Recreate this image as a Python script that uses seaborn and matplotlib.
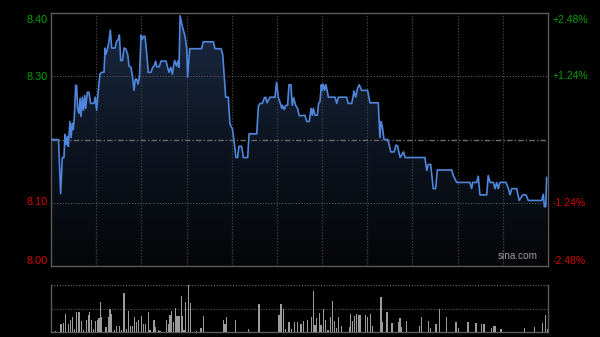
import numpy as np
import pandas as pd
import matplotlib
matplotlib.use("Agg")
import matplotlib.pyplot as plt
from matplotlib.patches import PathPatch
from matplotlib.colors import LinearSegmentedColormap
import matplotlib.transforms as mtransforms
import seaborn as sns

# ---------------- data ----------------
prev_close = 8.20

minutes = [0, 5, 6.4, 7.5, 8.6, 9.3, 10.0, 10.9, 11.5, 12.6, 13.3, 14.2, 14.8, 15.5, 16.4, 17.0, 17.7,
           18.6, 19.3, 19.9, 20.8, 21.5, 22.4, 23.0, 24.1, 25.2, 26.3, 28.5, 29.4, 30.3, 31.4, 32.5,
           33.6, 35.2, 35.9, 36.5, 37.4, 38.5, 39.4, 40.3, 42.5, 43.6, 44.7, 45.4, 46.3, 47.4, 48.5,
           49.6, 50.9, 51.8, 53.1, 54.2, 55.1, 56.0, 56.9, 57.8, 58.7, 59.8, 60.6, 61.5, 62.4, 63.3,
           64.6, 66.4, 67.5, 68.4, 69.5, 70.2, 71.9, 73.0, 76.4, 77.2, 78.4, 79.5, 80.6, 81.2, 82.1,
           83.4, 84.2, 85.0, 85.7, 87.2, 89.0, 90.1, 90.7, 92.1, 100.0, 101.1, 107.8, 108.9, 112.9,
           114.0, 116.0, 117.7, 118.8, 119.5, 120.4, 121.7, 122.8, 123.9, 124.8, 126.6, 127.7, 130.6,
           131.5, 136.6, 137.7, 138.8, 140.3, 141.7, 142.6, 143.4, 144.3, 145.4, 148.7, 149.8, 150.9,
           152.3, 153.2, 153.8, 154.9, 156.0, 157.1, 158.0, 159.3, 160.2, 161.1, 162.4, 163.7, 164.9,
           168.6, 169.8, 171.5, 172.7, 173.5, 174.2, 175.3, 176.8, 177.7, 178.6, 179.5, 180.1, 180.8,
           181.7, 182.6, 184.2, 188.6, 189.7, 190.8, 196.3, 197.3, 199.7, 201.2, 202.3, 203.6, 204.7,
           206.2, 210.2, 211.8, 217.3, 218.4, 219.1, 220.0, 221.1, 223.4, 224.2, 225.6, 227.8, 229.1,
           230.0, 231.8, 234.1, 235.1, 248.3, 249.5, 250.5, 252.1, 253.8, 255.4, 256.5, 266.1, 267.1,
           269.4, 278.2, 279.3, 280.0, 282.7, 283.7, 284.8, 289.3, 290.3, 291.5, 293.7, 294.8, 295.9,
           297.0, 298.1, 302.1, 303.7, 304.8, 305.9, 309.2, 310.9, 313.2, 315.4, 316.9, 325.8, 326.9,
           327.6, 328.5, 329.1]
prices = [8.200, 8.200, 8.113, 8.171, 8.171, 8.208, 8.192, 8.205, 8.189, 8.229, 8.203, 8.226, 8.216,
          8.237, 8.287, 8.287, 8.250, 8.242, 8.266, 8.237, 8.268, 8.247, 8.271, 8.250, 8.276, 8.276,
          8.258, 8.258, 8.268, 8.247, 8.279, 8.305, 8.308, 8.308, 8.347, 8.337, 8.345, 8.358, 8.376,
          8.347, 8.347, 8.358, 8.361, 8.368, 8.327, 8.327, 8.347, 8.346, 8.337, 8.318, 8.316, 8.300,
          8.279, 8.297, 8.297, 8.289, 8.300, 8.368, 8.361, 8.366, 8.366, 8.345, 8.308, 8.308, 8.316,
          8.318, 8.326, 8.317, 8.317, 8.326, 8.326, 8.318, 8.308, 8.316, 8.305, 8.316, 8.327,
          8.318, 8.326, 8.316, 8.399, 8.382, 8.366, 8.347, 8.300, 8.346, 8.346, 8.357, 8.357, 8.346,
          8.346, 8.337, 8.268, 8.268, 8.226, 8.221, 8.218, 8.195, 8.171, 8.171, 8.189, 8.189, 8.171,
          8.171, 8.209, 8.209, 8.253, 8.258, 8.258, 8.267, 8.268, 8.259, 8.263, 8.268, 8.268, 8.292,
          8.268, 8.258, 8.250, 8.255, 8.248, 8.255, 8.255, 8.288, 8.288, 8.255, 8.267, 8.255, 8.250,
          8.238, 8.239, 8.229, 8.229, 8.250, 8.239, 8.250, 8.239, 8.239, 8.258, 8.261, 8.288, 8.279,
          8.289, 8.279, 8.288, 8.268, 8.268, 8.258, 8.268, 8.268, 8.258, 8.258, 8.278, 8.268, 8.283,
          8.288, 8.279, 8.279, 8.259, 8.259, 8.203, 8.229, 8.221, 8.200, 8.200, 8.195, 8.180, 8.180,
          8.191, 8.190, 8.171, 8.180, 8.171, 8.171, 8.150, 8.160, 8.160, 8.121, 8.121, 8.151, 8.151,
          8.142, 8.131, 8.131, 8.121, 8.131, 8.131, 8.141, 8.111, 8.111, 8.142, 8.131, 8.131, 8.121,
          8.131, 8.121, 8.131, 8.131, 8.121, 8.111, 8.121, 8.121, 8.102, 8.111, 8.111, 8.102, 8.102,
          8.112, 8.092, 8.092, 8.139]

vol_minutes = [2.7, 6.6, 8.2, 9.7, 11.5, 12.8, 14.2, 15.5, 16.8, 18.6, 20.4, 21.7, 23.5, 24.8, 25.5,
               26.8, 28.1, 29.7, 31.0, 31.9, 33.0, 33.6, 36.5, 38.1, 39.2, 40.3, 42.0, 43.6, 45.2,
               46.9, 48.5, 50.2, 51.6, 52.9, 54.2, 55.3, 56.9, 58.2, 60.2, 61.3, 62.9, 64.6, 65.7,
               68.4, 69.5, 71.2, 72.4, 76.6, 77.9, 79.0, 79.9, 81.2, 82.8, 83.7, 85.0, 86.5, 87.4,
               88.3, 89.4, 91.2, 92.8, 96.7, 99.6, 101.4, 114.4, 115.5, 116.7, 122.6, 131.0, 138.1,
               151.4, 152.7, 154.2, 155.8, 158.0, 159.8, 161.4, 163.8, 166.0, 167.5, 170.2, 172.7,
               174.2, 175.3, 176.4, 178.0, 179.3, 180.8, 182.4, 183.9, 185.5, 187.0, 188.1, 189.3,
               190.8, 192.6, 198.1, 199.1, 200.4, 201.5, 202.6, 203.9, 205.2, 209.0, 210.3, 212.3,
               213.6, 219.1, 220.2, 223.1, 226.4, 230.8, 231.7, 232.8, 236.1, 244.5, 246.1, 250.8,
               251.9, 255.6, 257.8, 262.7, 268.9, 270.4, 276.9, 281.9, 282.8, 286.1, 287.5, 292.6,
               293.9, 294.8, 298.8, 314.4, 320.9, 326.5, 328.5, 329.6]
volumes = [2, 16, 20, 39, 18, 26, 32, 7, 43, 43, 23, 5, 26, 36, 43, 26, 6, 23, 26, 30, 63, 32, 11,
           32, 48, 39, 5, 12, 12, 5, 82, 7, 45, 12, 12, 32, 21, 25, 34, 18, 16, 43, 4, 26, 11, 5, 2,
           26, 18, 37, 44, 21, 52, 34, 34, 76, 34, 5, 63, 100, 61, 2, 9, 34, 25, 18, 32, 25, 6, 60,
           36, 59, 50, 7, 21, 7, 21, 21, 18, 24, 25, 32, 87, 14, 30, 41, 14, 50, 25, 5, 32, 66, 23,
           9, 32, 12, 11, 38, 23, 34, 39, 36, 37, 36, 32, 38, 12, 74, 21, 43, 19, 21, 29, 11, 24, 13,
           32, 24, 9, 18, 50, 32, 21, 9, 21, 19, 19, 16, 16, 9, 12, 12, 7, 9, 11, 19, 36, 6]

left_ticks = [8.40, 8.30, 8.10, 8.00]
left_labels = ["8.40", "8.30", "8.10", "8.00"]
pct_ticks = [2.48, 1.24, -1.24, -2.48]
pct_labels = ["+2.48%", "+1.24%", "-1.24%", "-2.48%"]

# ---------------- style ----------------
sns.set_theme(style="dark")
plt.rcParams["font.family"] = ["Liberation Sans", "DejaVu Sans"]

GREEN = "#00a000"
RED = "#d40000"
GRID = "#3c3c3c"
SPINE = "#5a5a5a"

fig = plt.figure(figsize=(6.0, 3.37), dpi=100, facecolor="black")
W, H = 600, 337
ax = fig.add_axes([51 / W, 1 - 266 / H, 497 / W, 253 / H])
axv = fig.add_axes([51 / W, 1 - 332 / H, 497 / W, 47 / H])

ylo = prev_close * (1 - 0.0248)
yhi = prev_close * (1 + 0.0248)
xmin, xmax = 0, 330

for a in (ax, axv):
    a.set_facecolor("black")
    a.set_xlim(xmin, xmax)
    a.set_xticks([])
    a.set_yticks([])
    a.grid(False)
    for s in a.spines.values():
        s.set_color(SPINE)
        s.set_linewidth(1.0)

ax.set_ylim(ylo, yhi)

df = pd.DataFrame({"minute": minutes, "price": prices})

# gradient fill under the price line
poly = ax.fill_between(df["minute"], df["price"], ylo, color="none", linewidth=0)
cmap = LinearSegmentedColormap.from_list("g", ["#050608", "#0d1522", "#1b2a44"])
grad = np.linspace(0, 1, 256).reshape(-1, 1)
im = ax.imshow(grad, extent=[xmin, xmax, ylo, yhi], aspect="auto", origin="lower",
               cmap=cmap, zorder=1, interpolation="bicubic")
path = poly.get_paths()[0]
patch = PathPatch(path, transform=ax.transData, facecolor="none", edgecolor="none")
ax.add_patch(patch)
im.set_clip_path(patch)

# grid lines
for m in range(30, 330, 30):
    ax.axvline(m, color=GRID, lw=0.9, ls=(0, (1.2, 1.2)), zorder=2)
for p in (1.24, -1.24):
    ax.axhline(prev_close * (1 + p / 100), color="#5a5a5a", lw=0.8, ls=(0, (1, 1.5)), zorder=2)
ax.axhline(prev_close, color="#6a6a6a", lw=1.0, ls=(0, (4, 1.5, 1, 1.5)), zorder=2)

sns.lineplot(data=df, x="minute", y="price", ax=ax, color="#4f86dc", lw=1.2,
             estimator=None, sort=False, zorder=4)
ax.set_xlabel("")
ax.set_ylabel("")
ax.set_xlim(xmin, xmax)
ax.set_ylim(ylo, yhi)

# labels
ytrans = mtransforms.blended_transform_factory(fig.transFigure, ax.transData)
down = mtransforms.offset_copy(ytrans, fig=fig, x=0, y=-1.5, units="points")
for v, lab in zip(left_ticks, left_labels):
    col = GREEN if v > prev_close else RED
    va, yy, tr = "center", v, ytrans
    if v == left_ticks[0]:
        va, yy, tr = "top", yhi, down
    elif v == left_ticks[-1]:
        va, yy = "bottom", ylo
    ax.text(48 / W, yy, lab, transform=tr, ha="right", va=va, color=col, fontsize=7.8)
for p, lab in zip(pct_ticks, pct_labels):
    col = GREEN if p > 0 else RED
    va, tr = "center", ytrans
    yy = prev_close * (1 + p / 100)
    if p == pct_ticks[0]:
        va, tr = "top", down
    elif p == pct_ticks[-1]:
        va = "bottom"
    ax.text(553 / W, yy, lab, transform=tr, ha="left", va=va, color=col, fontsize=7.5)

ax.text(0.94, 0.018, "sina.com", transform=ax.transAxes, ha="center", va="bottom",
        color="#9a9a9a", fontsize=7.2, zorder=6)

# volume panel
axv.bar(vol_minutes, volumes, width=0.75, color="#9c9c9c", linewidth=0, zorder=3)
axv.set_ylim(0, 100)
axv.spines["top"].set_visible(False)
axv.axhline(100, color="#5a5a5a", lw=0.9, ls=(0, (1, 1.2)), zorder=2)
axv.axhline(50, color="#4a4a4a", lw=0.9, ls=(0, (1, 1.2)), zorder=2)

fig.savefig("out.png", dpi=100, facecolor="black")
